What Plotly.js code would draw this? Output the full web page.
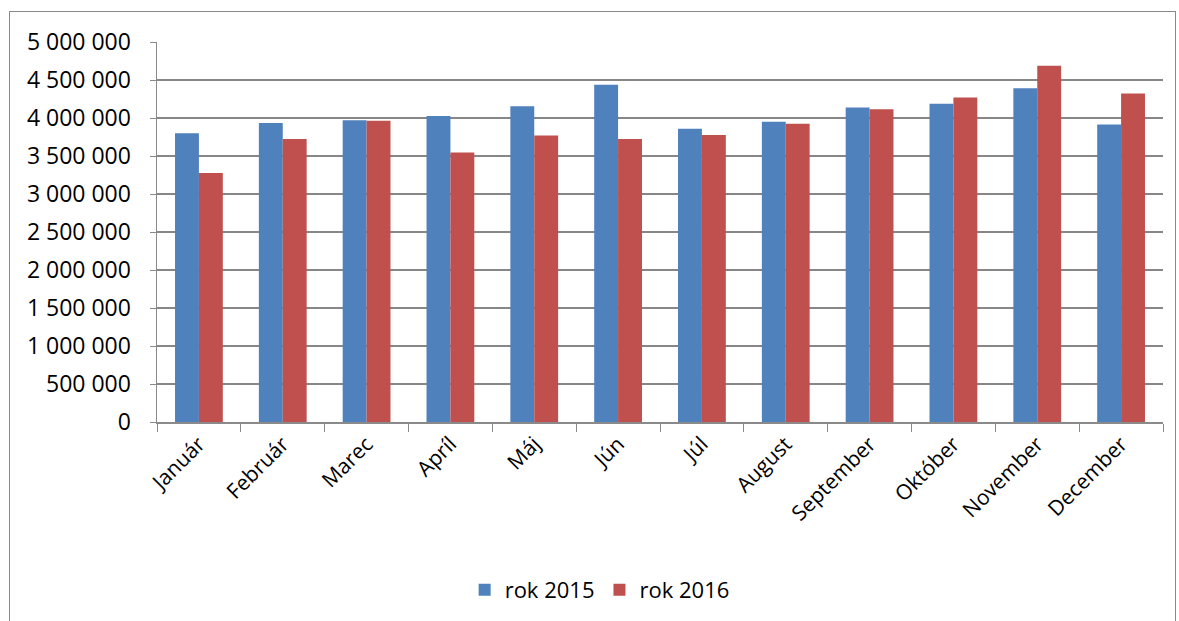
<!DOCTYPE html>
<html>
<head>
<meta charset="utf-8">
<script src="https://cdn.plot.ly/plotly-3.0.1.min.js"></script>
<style>
html,body{margin:0;padding:0;background:#fff;}
#frame{position:absolute;left:9px;top:11px;width:1167px;height:640px;border:1px solid #8a8a8a;box-sizing:border-box;pointer-events:none;z-index:5;}
#chart{position:absolute;left:0;top:0;width:1179px;height:621px;}
</style>
</head>
<body>
<div id="chart"></div>
<div id="frame"></div>
<script>
const months = ["Január","Február","Marec","Apríl","Máj","Jún","Júl","August","September","Október","November","December"];
const rok2015 = [3800000,3933000,3972000,4025000,4156000,4436000,3858000,3950000,4138000,4186000,4392000,3915000];
const rok2016 = [3277000,3723000,3963000,3547000,3770000,3723000,3775000,3924000,4116000,4269000,4689000,4322000];
const seriesNames = ["rok 2015","rok 2016"];
const yTicks = [0,500000,1000000,1500000,2000000,2500000,3000000,3500000,4000000,4500000,5000000];

const fam = "'Open Sans', sans-serif";

const data = [
  {type:"bar", name:seriesNames[0], x:months, y:rok2015, marker:{color:"#4F81BD"}},
  {type:"bar", name:seriesNames[1], x:months, y:rok2016, marker:{color:"#C0504D"}}
];

const layout = {
  width:1179, height:621,
  margin:{l:157, r:16, t:42, b:198, pad:0},
  paper_bgcolor:"#fff", plot_bgcolor:"#fff",
  separators:", ",
  font:{family:fam, size:22, color:"#000"},
  barmode:"group", bargap:0.43, bargroupgap:0,
  showlegend:true,
  legend:{orientation:"h", x:0.44, xanchor:"center", y:-0.438, yanchor:"middle",
          font:{family:fam, size:22, color:"#000"}, itemwidth:20, tracegroupgap:0},
  xaxis:{
    type:"category", tickangle:-45, tickson:"boundaries", ticks:"outside", ticklen:8,
    tickcolor:"#8a8a8a", showline:true, linecolor:"#8a8a8a", linewidth:1.5,
    showgrid:false, tickfont:{family:fam, size:21, color:"#000"}, automargin:false
  },
  yaxis:{
    range:[0,5000000], tickvals:yTicks, tickformat:",d", ticks:"outside", ticklen:6,
    tickcolor:"#8a8a8a", showline:true, linecolor:"#8a8a8a", linewidth:1.5,
    showgrid:true, gridcolor:"#878787", gridwidth:1.8, zeroline:false,
    tickfont:{family:fam, size:23, color:"#000"}, ticklabelstandoff:14, automargin:false
  }
};
Plotly.newPlot("chart", data, layout, {displayModeBar:false, staticPlot:true});
</script>
</body>
</html>
